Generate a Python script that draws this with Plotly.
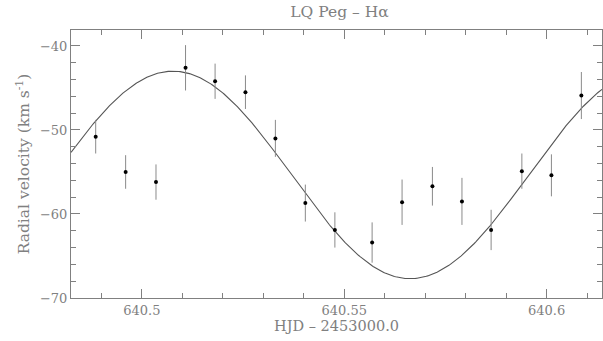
import numpy as np
import plotly.graph_objects as go

# Observations (HJD - 2453000.0) and radial velocities (km/s)
hjd = [640.4886, 640.4960, 640.5035, 640.5108, 640.5181, 640.5256, 640.5330,
       640.5404, 640.5477, 640.5569, 640.5643, 640.5718, 640.5791, 640.5863,
       640.5939, 640.6012, 640.6086]
rv = [-50.8, -55.0, -56.2, -42.6, -44.2, -45.5, -51.0,
      -58.7, -61.9, -63.4, -58.6, -56.7, -58.5, -61.9,
      -54.9, -55.4, -45.9]
rv_err = [2.0, 2.0, 2.1, 2.7, 2.1, 2.0, 2.2,
          2.2, 2.1, 2.4, 2.7, 2.3, 2.8, 2.4,
          2.1, 2.5, 2.8]

# Sinusoidal fit parameters
gamma = -55.35
K = 12.35
T_max = 640.5077
P = 0.1172

x_range = [640.4825, 640.6137]
y_range = [-70, -38.1]

xf = np.linspace(x_range[0], x_range[1], 400)
yf = gamma + K * np.cos(2 * np.pi * (xf - T_max) / P)

grey = "#808080"
font_fam = "DejaVu Serif"

fig = go.Figure()
fig.add_trace(go.Scatter(x=xf, y=yf, mode="lines",
                         line=dict(color="#555555", width=1.1),
                         hoverinfo="skip", showlegend=False))
fig.add_trace(go.Scatter(x=hjd, y=rv, mode="markers",
                         marker=dict(color="black", size=4, symbol="circle"),
                         error_y=dict(type="data", array=rv_err, color="#8a8a8a",
                                      thickness=1, width=0),
                         showlegend=False))

axis_common = dict(showgrid=False, zeroline=False, showline=True, linecolor=grey,
                   linewidth=1, mirror="ticks", ticks="inside", tickcolor=grey,
                   tickfont=dict(family=font_fam, size=13, color=grey))

fig.update_xaxes(range=x_range, tickvals=[640.5, 640.55, 640.6],
                 ticktext=["640.5", "640.55", "640.6"], ticklen=9,
                 minor=dict(dtick=0.01, tick0=640.5, ticks="inside", ticklen=5, tickcolor=grey),
                 title=dict(text="HJD \u2013 2453000.0", standoff=4,
                            font=dict(family=font_fam, size=14.5, color=grey)),
                 **axis_common)
fig.update_yaxes(range=y_range, tickvals=[-70, -60, -50, -40], ticklen=9,
                 minor=dict(dtick=2, tick0=-70, ticks="inside", ticklen=5, tickcolor=grey),
                 title=dict(text="Radial velocity (km s<sup>-1</sup>)", standoff=6,
                            font=dict(family=font_fam, size=15.5, color=grey)),
                 **axis_common)

fig.update_layout(width=603, height=341,
                  margin=dict(l=71, r=1, t=30, b=43),
                  paper_bgcolor="white", plot_bgcolor="white",
                  title=dict(text="LQ Peg \u2013 H\u03b1", x=0.563, xanchor="center",
                             y=0.965, yanchor="middle",
                             font=dict(family=font_fam, size=15.5, color=grey)))

fig.write_html("out.html")
